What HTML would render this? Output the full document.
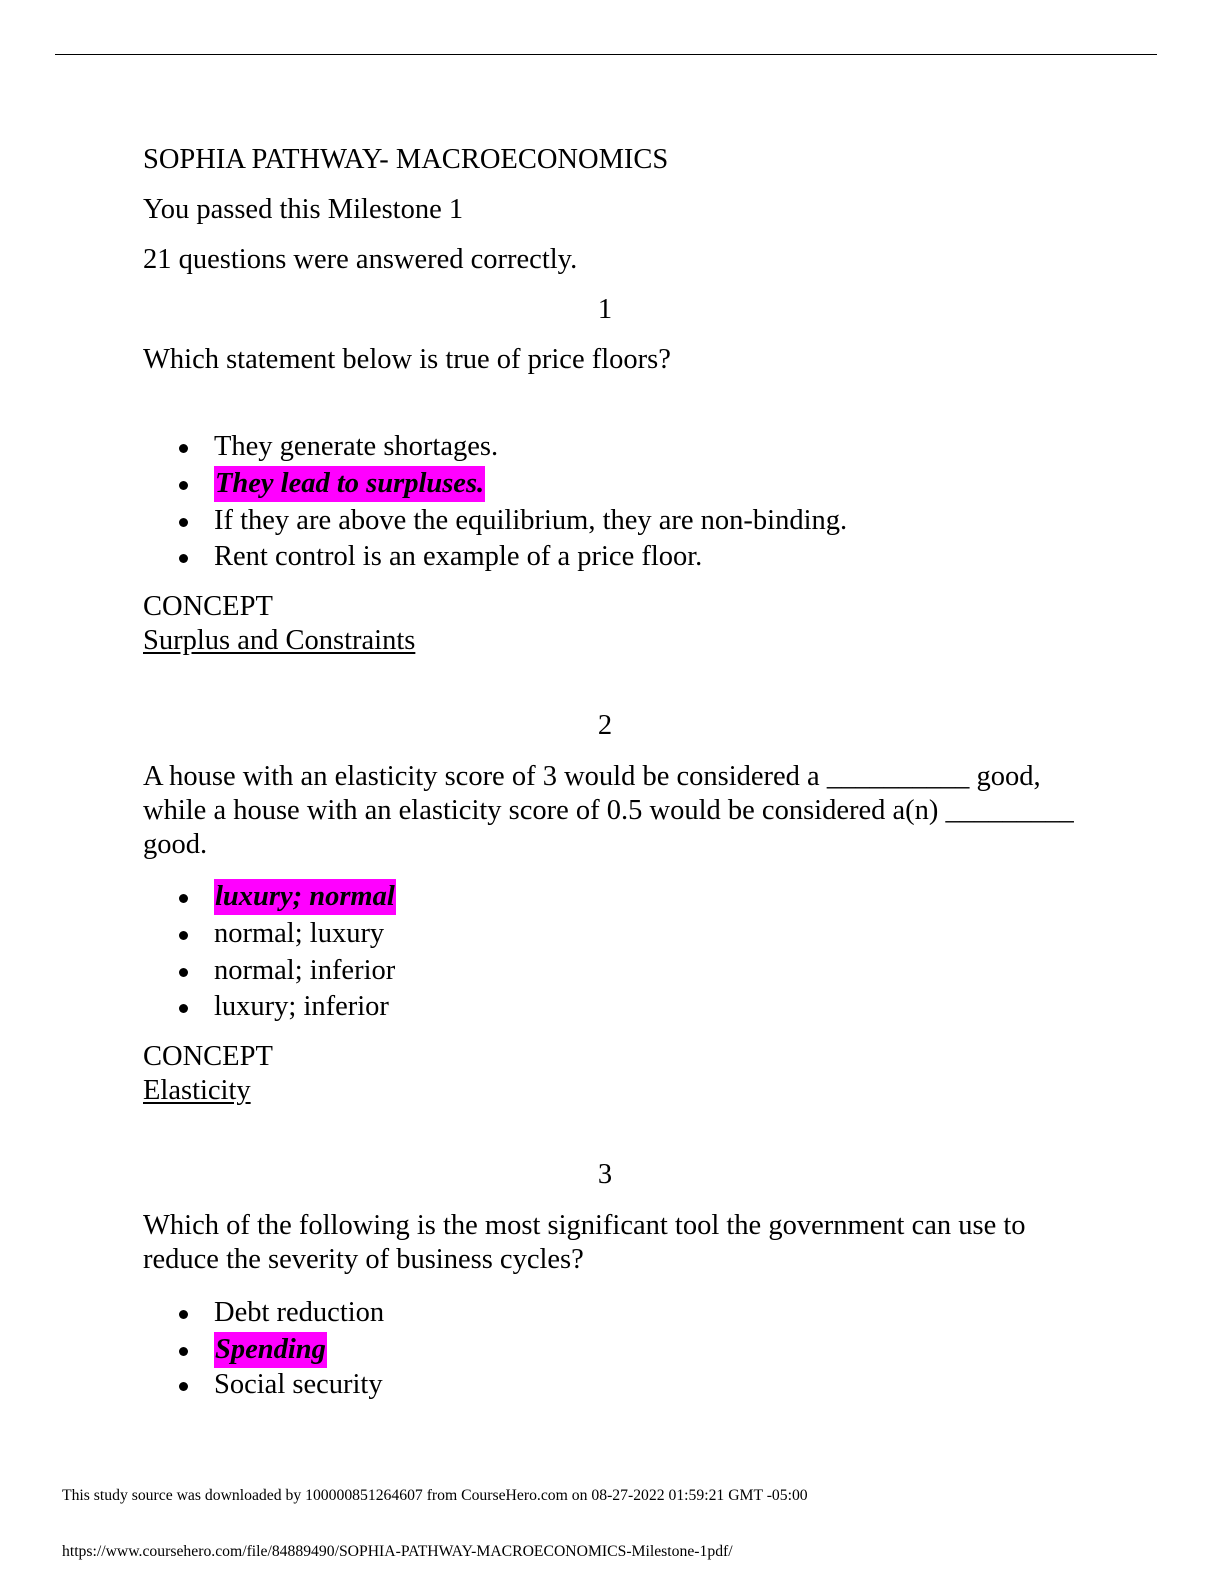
<!DOCTYPE html>
<html><head><meta charset="utf-8"><style>
html,body{margin:0;padding:0;background:#fff;}
body{width:1224px;height:1584px;position:relative;overflow:hidden;font-family:"Liberation Serif",serif;color:#000;}
.l{position:absolute;left:143px;font-size:28.5px;line-height:32px;white-space:nowrap;}
.c{left:0;width:1210px;text-align:center;}
.b{left:214px;}
.b:before{content:"";position:absolute;left:-35px;top:13px;width:9px;height:9px;border-radius:50%;background:#000;}
.h{background:#ff00ff;font-weight:bold;font-style:italic;padding:2px 1px 3px 1px;}
.u{text-decoration:underline;text-underline-offset:3px;}
.f{position:absolute;left:62px;font-size:15.7px;white-space:nowrap;}
</style></head><body>
<div style="position:absolute;left:55px;top:54px;width:1102px;height:1px;background:#000"></div>
<div class="l" style="top:144px">SOPHIA PATHWAY- MACROECONOMICS</div>
<div class="l" style="top:194px">You passed this Milestone 1</div>
<div class="l" style="top:244px">21 questions were answered correctly.</div>
<div class="l c" style="top:294px">1</div>
<div class="l" style="top:344px">Which statement below is true of price floors?</div>
<div class="l b" style="top:431px">They generate shortages.</div>
<div class="l b" style="top:468px"><span class="h">They lead to surpluses.</span></div>
<div class="l b" style="top:505px">If they are above the equilibrium, they are non-binding.</div>
<div class="l b" style="top:541px">Rent control is an example of a price floor.</div>
<div class="l" style="top:591px">CONCEPT</div>
<div class="l u" style="top:625px">Surplus and Constraints</div>
<div class="l c" style="top:710px">2</div>
<div class="l" style="top:761px">A house with an elasticity score of 3 would be considered a __________ good,</div>
<div class="l" style="top:795px">while a house with an elasticity score of 0.5 would be considered a(n) _________</div>
<div class="l" style="top:829px">good.</div>
<div class="l b" style="top:881px"><span class="h">luxury; normal</span></div>
<div class="l b" style="top:918px">normal; luxury</div>
<div class="l b" style="top:955px">normal; inferior</div>
<div class="l b" style="top:991px">luxury; inferior</div>
<div class="l" style="top:1041px">CONCEPT</div>
<div class="l u" style="top:1075px">Elasticity</div>
<div class="l c" style="top:1159px">3</div>
<div class="l" style="top:1210px">Which of the following is the most significant tool the government can use to</div>
<div class="l" style="top:1244px">reduce the severity of business cycles?</div>
<div class="l b" style="top:1297px">Debt reduction</div>
<div class="l b" style="top:1334px"><span class="h">Spending</span></div>
<div class="l b" style="top:1369px">Social security</div>
<div class="f" style="top:1487px">This study source was downloaded by 100000851264607 from CourseHero.com on 08-27-2022 01:59:21 GMT -05:00</div>
<div class="f" style="top:1543px">https://www.coursehero.com/file/84889490/SOPHIA-PATHWAY-MACROECONOMICS-Milestone-1pdf/</div>
</body></html>
